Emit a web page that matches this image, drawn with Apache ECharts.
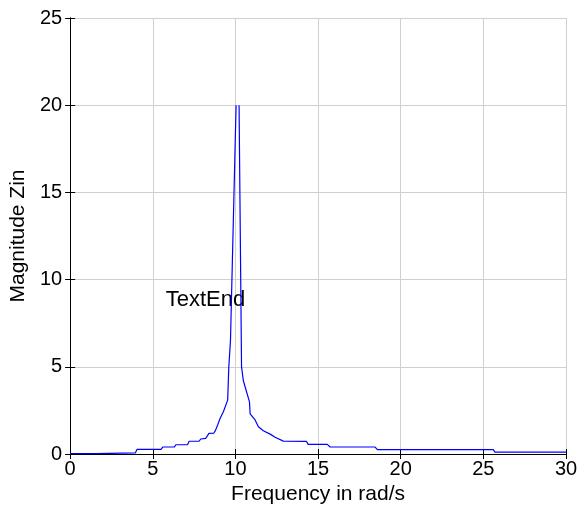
<!DOCTYPE html>
<html><head><meta charset="utf-8">
<script src="https://cdn.jsdelivr.net/npm/echarts@6/dist/echarts.min.js"></script>
<style>html,body{margin:0;padding:0;background:#fff}#c{width:581px;height:512px}</style>
</head><body><div id="c"></div>
<script>
var freq = [0, 1.55, 1.65, 3.95, 4.05, 5.5, 5.6, 6.3, 6.4, 7.1, 7.2, 7.8, 7.9, 8.2, 8.3, 8.4, 8.7, 8.8, 8.9, 9.07, 9.27, 9.53, 9.6, 9.7, 10.04, null, 10.22, 10.37, 10.48, 10.85, 10.89, 11.19, 11.39, 11.69, 12.1, 12.4, 12.9, 14.3, 14.4, 15.56, 15.73, 18.45, 18.59, 25.6, 25.7, 30];
var mag  = [0.02, 0.02, 0.07, 0.07, 0.27, 0.27, 0.4, 0.4, 0.53, 0.53, 0.73, 0.73, 0.86, 0.9, 0.99, 1.18, 1.2, 1.37, 1.6, 2.04, 2.42, 3.09, 5.0, 6.5, 20, null, 20, 5.0, 4.2, 2.99, 2.3, 1.95, 1.56, 1.33, 1.14, 0.96, 0.74, 0.72, 0.55, 0.55, 0.40, 0.40, 0.25, 0.25, 0.11, 0.11];
var xTicks = [0, 5, 10, 15, 20, 25, 30];
var yTicks = [0, 5, 10, 15, 20, 25];
var annotation = {x: 5.78, y: 8.83, text: 'TextEnd'};

var pts = freq.map(function (f, i) { return f === null ? [null, null] : [f, mag[i]]; });
var font = 'Liberation Sans, Arial, sans-serif';
var chart = echarts.init(document.getElementById('c'));
var baseAxis = {
  min: 0, interval: 5,
  axisLine: {show: true, lineStyle: {color: '#000', width: 1}},
  axisTick: {show: true, inside: true, length: 5, lineStyle: {color: '#000'}},
  splitLine: {show: false},
  axisLabel: {show: false}
};
chart.setOption({
  animation: false,
  grid: {left: 70, right: 15, top: 18, bottom: 58, show: false},
  xAxis: [
    Object.assign({}, baseAxis, {type: 'value', position: 'bottom', max: xTicks[xTicks.length - 1],
      splitLine: {show: true, lineStyle: {color: '#d0d0d0', width: 1}},
      axisLabel: {show: true, color: '#000', fontSize: 20, fontFamily: font, margin: 5},
      name: 'Frequency in rad/s', nameLocation: 'middle', nameGap: 29,
      nameTextStyle: {color: '#000', fontSize: 21, fontFamily: font}}),
    Object.assign({}, baseAxis, {type: 'value', position: 'top', max: xTicks[xTicks.length - 1]})
  ],
  yAxis: [
    Object.assign({}, baseAxis, {type: 'value', position: 'left', max: yTicks[yTicks.length - 1],
      splitLine: {show: true, lineStyle: {color: '#d0d0d0', width: 1}},
      axisLabel: {show: true, color: '#000', fontSize: 20, fontFamily: font, margin: 8},
      name: 'Magnitude Zin', nameLocation: 'middle', nameGap: 37, nameRotate: 90,
      nameTextStyle: {color: '#000', fontSize: 21, fontFamily: font}}),
    Object.assign({}, baseAxis, {type: 'value', position: 'right', max: yTicks[yTicks.length - 1]})
  ],
  series: [
    {type: 'line', data: pts, showSymbol: false, connectNulls: false,
     lineStyle: {color: '#0000ff', width: 1.2}, z: 3,
     markPoint: {
       symbol: 'circle', symbolSize: 0, silent: true, z: 1,
       itemStyle: {color: 'transparent'},
       label: {show: true, position: 'right', distance: 0, color: '#000', opacity: 1,
         fontSize: 22, fontFamily: font, align: 'left', verticalAlign: 'middle'},
       data: [{coord: [annotation.x, annotation.y], label: {formatter: annotation.text}}]
     }}
  ]
});
</script></body></html>
